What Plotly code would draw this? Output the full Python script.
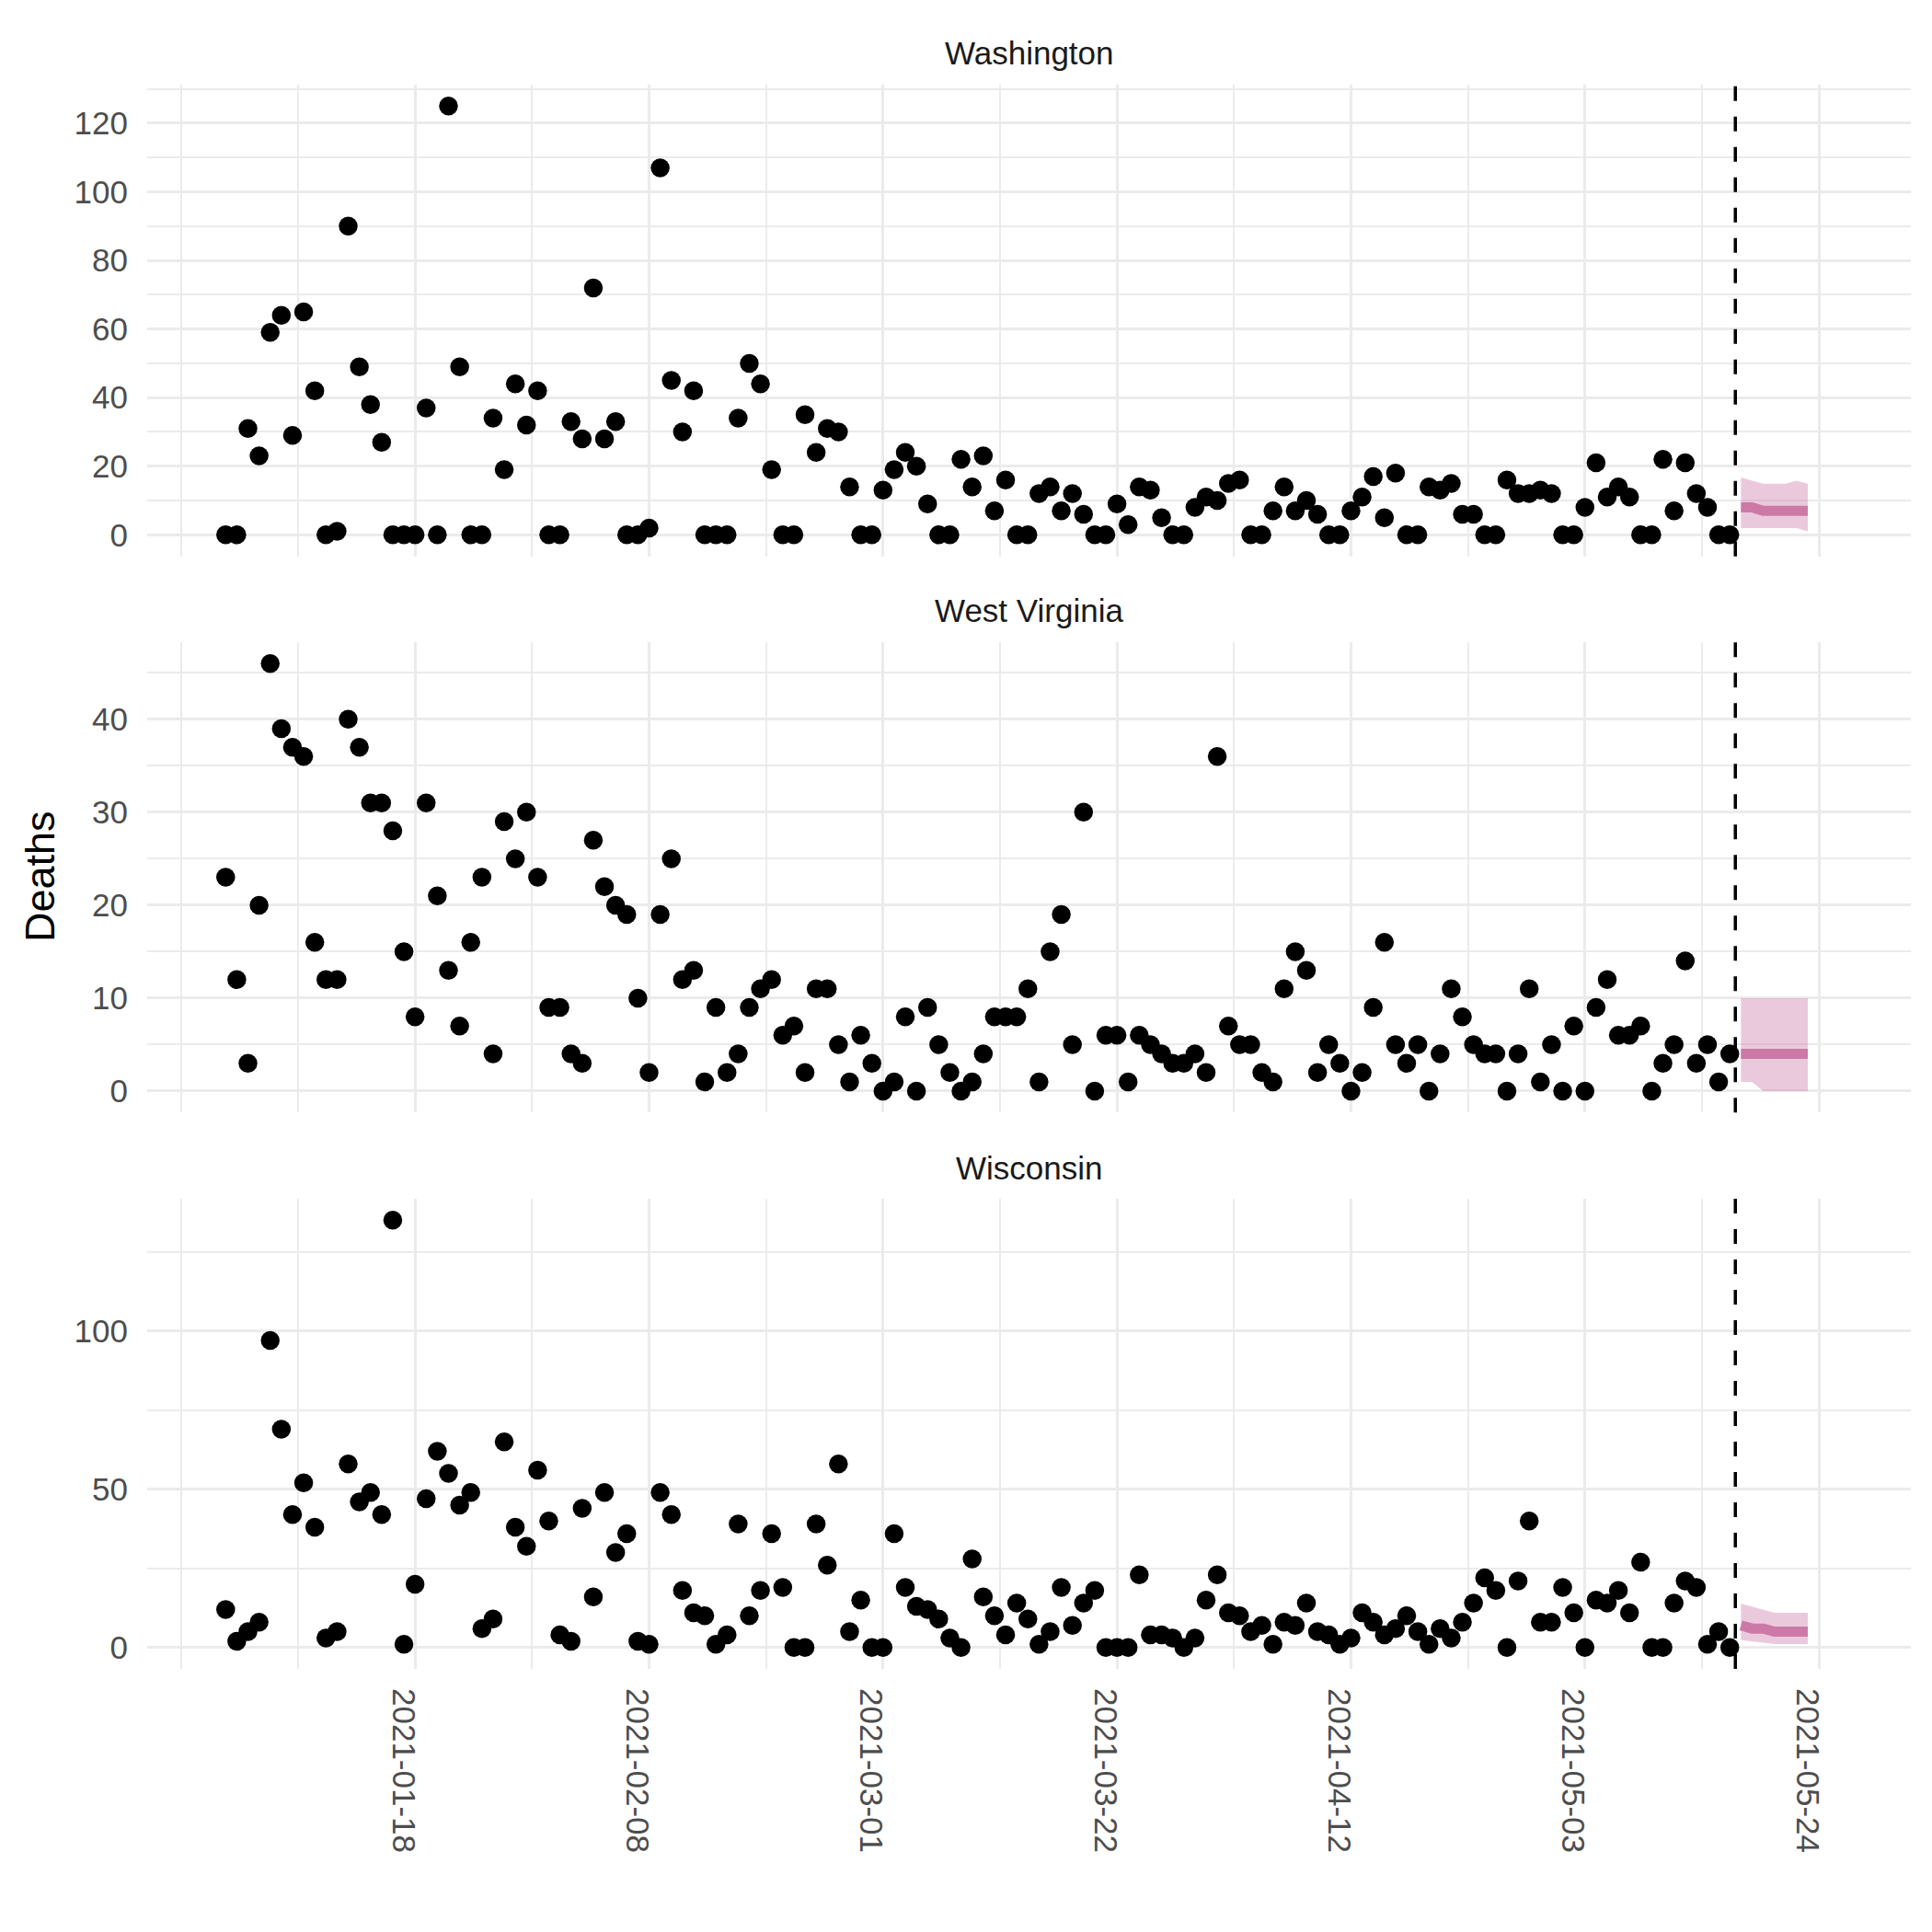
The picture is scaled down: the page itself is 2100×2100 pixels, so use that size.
import pandas as pd
import plotly.graph_objects as go

# ---------------- data ----------------
obs_start = "2021-01-01"
n_days = 136
obs_dates = pd.date_range(obs_start, periods=n_days, freq="D")

washington = [
    0, 0, 31, 23, 59, 64, 29, 65, 42, 0,
    1, 90, 49, 38, 27, 0, 0, 0, 37, 0,
    125, 49, 0, 0, 34, 19, 44, 32, 42, 0,
    0, 33, 28, 72, 28, 33, 0, 0, 2, 107,
    45, 30, 42, 0, 0, 0, 34, 50, 44, 19,
    0, 0, 35, 24, 31, 30, 14, 0, 0, 13,
    19, 24, 20, 9, 0, 0, 22, 14, 23, 7,
    16, 0, 0, 12, 14, 7, 12, 6, 0, 0,
    9, 3, 14, 13, 5, 0, 0, 8, 11, 10,
    15, 16, 0, 0, 7, 14, 7, 10, 6, 0,
    0, 7, 11, 17, 5, 18, 0, 0, 14, 13,
    15, 6, 6, 0, 0, 16, 12, 12, 13, 12,
    0, 0, 8, 21, 11, 14, 11, 0, 0, 22,
    7, 21, 12, 8, 0, 0,
]
west_virginia = [
    23, 12, 3, 20, 46, 39, 37, 36, 16, 12,
    12, 40, 37, 31, 31, 28, 15, 8, 31, 21,
    13, 7, 16, 23, 4, 29, 25, 30, 23, 9,
    9, 4, 3, 27, 22, 20, 19, 10, 2, 19,
    25, 12, 13, 1, 9, 2, 4, 9, 11, 12,
    6, 7, 2, 11, 11, 5, 1, 6, 3, 0,
    1, 8, 0, 9, 5, 2, 0, 1, 4, 8,
    8, 8, 11, 1, 15, 19, 5, 30, 0, 6,
    6, 1, 6, 5, 4, 3, 3, 4, 2, 36,
    7, 5, 5, 2, 1, 11, 15, 13, 2, 5,
    3, 0, 2, 9, 16, 5, 3, 5, 0, 4,
    11, 8, 5, 4, 4, 0, 4, 11, 1, 5,
    0, 7, 0, 9, 12, 6, 6, 7, 0, 3,
    5, 14, 3, 5, 1, 4,
]
wisconsin = [
    12, 2, 5, 8, 97, 69, 42, 52, 38, 3,
    5, 58, 46, 49, 42, 135, 1, 20, 47, 62,
    55, 45, 49, 6, 9, 65, 38, 32, 56, 40,
    4, 2, 44, 16, 49, 30, 36, 2, 1, 49,
    42, 18, 11, 10, 1, 4, 39, 10, 18, 36,
    19, 0, 0, 39, 26, 58, 5, 15, 0, 0,
    36, 19, 13, 12, 9, 3, 0, 28, 16, 10,
    4, 14, 9, 1, 5, 19, 7, 14, 18, 0,
    0, 0, 23, 4, 4, 3, 0, 3, 15, 23,
    11, 10, 5, 7, 1, 8, 7, 14, 5, 4,
    1, 3, 11, 8, 4, 6, 10, 5, 1, 6,
    3, 8, 14, 22, 18, 0, 21, 40, 8, 8,
    19, 11, 0, 15, 14, 18, 11, 27, 0, 0,
    14, 21, 19, 1, 5, 0,
]

fc_dates = pd.date_range("2021-05-17", "2021-05-23", freq="D")
wa_median = [8, 8, 7, 7, 7, 7, 7]
wa_lower = [2, 2, 2, 2, 2, 2, 1]
wa_upper = [16.7, 15.8, 14.9, 14.9, 14.9, 15.8, 14.9]
wv_median = [4, 4, 4, 4, 4, 4, 4]
wv_lower = [1, 1, 0, 0, 0, 0, 0]
wv_upper = [10, 10, 10, 10, 10, 10, 10]
wi_median = [7, 6, 6, 5, 5, 5, 5]
wi_lower = [2.3, 1.9, 1.5, 1.1, 1.1, 1.1, 1.1]
wi_upper = [13.9, 12.9, 12, 11, 11, 11, 11]

forecast_date = "2021-05-16 12:00"
x_tick_labels = ["2021-01-18", "2021-02-08", "2021-03-01", "2021-03-22",
                 "2021-04-12", "2021-05-03", "2021-05-24"]
states = ["Washington", "West Virginia", "Wisconsin"]

# ---------------- styling ----------------
FONT = "Liberation Sans, Arial, Helvetica, sans-serif"
GRID = "#EBEBEB"
PINK = "#CC79A7"
RIBBON = "rgba(204,121,167,0.4)"
DAY_MS = 86400000

panels = [
    dict(name=states[0], y=washington, med=wa_median, lo=wa_lower, hi=wa_upper,
         domain=[0.7023, 1.0], rng=[-6.25, 131.25], dtick=20, minor=10),
    dict(name=states[1], y=west_virginia, med=wv_median, lo=wv_lower, hi=wv_upper,
         domain=[0.3512, 0.6481], rng=[-2.3, 48.3], dtick=10, minor=5),
    dict(name=states[2], y=wisconsin, med=wi_median, lo=wi_lower, hi=wi_upper,
         domain=[0.0, 0.2967], rng=[-6.75, 141.75], dtick=50, minor=25),
]

fig = go.Figure()
layout = dict(
    width=2100, height=2100,
    margin=dict(l=160, r=23, t=92, b=286),
    paper_bgcolor="white", plot_bgcolor="white",
    showlegend=False,
    font=dict(family=FONT, color="#4D4D4D", size=35),
)

plot_top, plot_bottom = 92, 2100 - 286
plot_h = plot_bottom - plot_top
annotations = []
shapes = []

for k, p in enumerate(panels):
    sfx = "" if k == 0 else str(k + 1)
    xa, ya = "x" + sfx, "y" + sfx
    # ribbon
    fig.add_trace(go.Scatter(
        x=list(fc_dates) + list(fc_dates[::-1]),
        y=list(p["hi"]) + list(p["lo"][::-1]),
        fill="toself", fillcolor=RIBBON, line=dict(width=0),
        mode="lines", hoverinfo="skip", xaxis=xa, yaxis=ya))
    # median
    fig.add_trace(go.Scatter(
        x=fc_dates, y=p["med"], mode="lines",
        line=dict(color=PINK, width=11), xaxis=xa, yaxis=ya))
    # observed
    fig.add_trace(go.Scatter(
        x=obs_dates, y=p["y"], mode="markers",
        marker=dict(color="black", size=20.5, line=dict(width=0)),
        xaxis=xa, yaxis=ya))

    layout["xaxis" + sfx] = dict(
        type="date",
        range=["2020-12-24 23:00", "2021-06-01 06:00"],
        domain=[0, 1],
        anchor=ya,
        tickmode="array", tickvals=x_tick_labels, ticktext=x_tick_labels,
        showticklabels=(k == 2), tickangle=90, ticks="",
        ticklabelstandoff=20, ticklabelshift=-13,
        tickfont=dict(size=35, color="#4D4D4D", family=FONT),
        showgrid=True, gridcolor=GRID, gridwidth=3.3,
        minor=dict(tick0="2020-12-28", dtick=int(10.5 * DAY_MS),
                   showgrid=True, gridcolor=GRID, gridwidth=1.7, ticks=""),
        zeroline=False, showline=False,
        matches=None if k == 0 else "x",
    )
    layout["yaxis" + sfx] = dict(
        domain=p["domain"], range=p["rng"], anchor=xa,
        tick0=0, dtick=p["dtick"], ticks="",
        ticklabelstandoff=20,
        tickfont=dict(size=35, color="#4D4D4D", family=FONT),
        showgrid=True, gridcolor=GRID, gridwidth=3.3,
        minor=dict(tick0=0, dtick=p["minor"], showgrid=True,
                   gridcolor=GRID, gridwidth=1.7, ticks=""),
        zeroline=False, showline=False,
    )
    # vertical dashed forecast line
    shapes.append(dict(
        type="line", xref=xa, yref=ya + " domain",
        x0=forecast_date, x1=forecast_date, y0=0, y1=1,
        line=dict(color="black", width=3.5, dash="16px,17px"), layer="above"))
    # strip title
    top_px = plot_bottom - p["domain"][1] * plot_h
    annotations.append(dict(
        text=p["name"], xref="paper", yref="paper",
        x=0.5, y=(plot_bottom - (top_px - 34)) / plot_h,
        xanchor="center", yanchor="middle", showarrow=False,
        font=dict(size=35, color="#1A1A1A", family=FONT)))

annotations.append(dict(
    text="Deaths", xref="paper", yref="paper",
    x=(43 - 160) / (2100 - 160 - 23), y=0.5,
    xanchor="center", yanchor="middle", textangle=-90, showarrow=False,
    font=dict(size=45, color="black", family=FONT)))

layout["annotations"] = annotations
layout["shapes"] = shapes
fig.update_layout(**layout)
fig.write_html("out.html")
